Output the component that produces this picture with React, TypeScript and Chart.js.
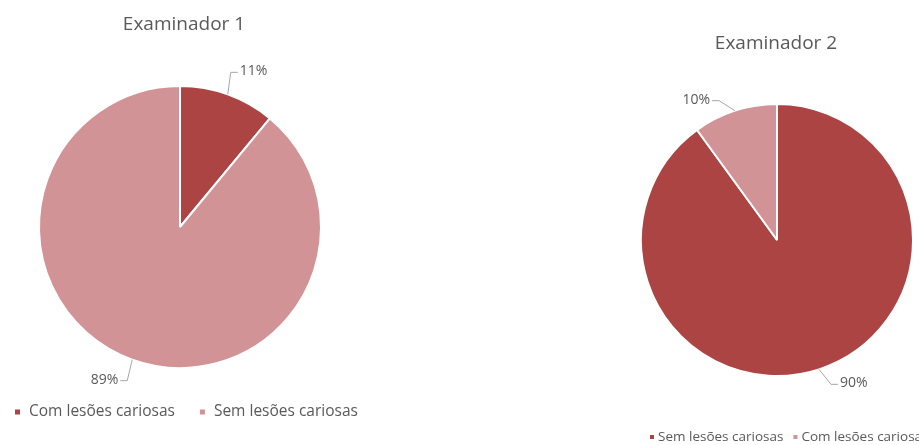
import React, { useEffect, useRef } from "react";
import { Chart, registerables } from "chart.js";

Chart.register(...registerables);

// ---- Data ----
const title1 = "Examinador 1";
const categories1 = ["Com lesões cariosas", "Sem lesões cariosas"];
const values1 = [11, 89];

const title2 = "Examinador 2";
const categories2 = ["Sem lesões cariosas", "Com lesões cariosas"];
const values2 = [90, 10];

// ---- Styles ----
const DARK = "#ab4443";
const LIGHT = "#d19396";
const TEXT = "#595959";
const LEADER = "#a6a6a6";
const FONT = "'Open Sans', 'DejaVu Sans', sans-serif";

type LabelPlace = { dx: number; dy: number; align: "left" | "right" };
type Decor = {
  title: { text: string; x: number; y: number; size: number };
  legend: { x: number; y: number; size: number; box: number; boxGap: number; itemGap: number };
  labels: LabelPlace[];
  labelSize: number;
};

const decorPlugin = {
  id: "excelDecor",
  afterDatasetsDraw(chart: any, _args: any, opts: Decor) {
    const ctx = chart.ctx as CanvasRenderingContext2D;
    const meta = chart.getDatasetMeta(0);
    const data = chart.data.datasets[0].data as number[];
    const total = data.reduce((a, b) => a + b, 0);
    ctx.save();
    meta.data.forEach((arc: any, i: number) => {
      const p = arc.getProps(["x", "y", "startAngle", "endAngle", "outerRadius"], true);
      const mid = (p.startAngle + p.endAngle) / 2;
      const ex = p.x + Math.cos(mid) * p.outerRadius;
      const ey = p.y + Math.sin(mid) * p.outerRadius;
      const place = opts.labels[i];
      const ax = ex + place.dx;
      const ay = ey + place.dy;
      const s = place.align === "left" ? 1 : -1;
      ctx.strokeStyle = LEADER;
      ctx.lineWidth = 1;
      ctx.beginPath();
      ctx.moveTo(ex, ey);
      ctx.lineTo(ax - s * 9, ay + 1);
      ctx.lineTo(ax - s * 2, ay + 1);
      ctx.stroke();
      ctx.fillStyle = TEXT;
      ctx.font = `${opts.labelSize}px ${FONT}`;
      ctx.textBaseline = "middle";
      ctx.textAlign = place.align;
      ctx.fillText(Math.round((data[i] / total) * 100) + "%", ax, ay);
    });
    ctx.restore();
  },
  afterDraw(chart: any, _args: any, opts: Decor) {
    const ctx = chart.ctx as CanvasRenderingContext2D;
    ctx.save();
    // title
    ctx.fillStyle = TEXT;
    ctx.font = `${opts.title.size}px ${FONT}`;
    ctx.textAlign = "center";
    ctx.textBaseline = "middle";
    ctx.fillText(opts.title.text, opts.title.x, opts.title.y);
    // legend
    const lg = opts.legend;
    ctx.font = `${lg.size}px ${FONT}`;
    ctx.textAlign = "left";
    let x = lg.x;
    const labels = chart.data.labels as string[];
    const colors = chart.data.datasets[0].backgroundColor as string[];
    labels.forEach((lab, i) => {
      ctx.fillStyle = colors[i];
      ctx.fillRect(x, lg.y - lg.box / 2, lg.box, lg.box);
      x += lg.box + lg.boxGap;
      ctx.fillStyle = TEXT;
      ctx.fillText(lab, x, lg.y);
      x += ctx.measureText(lab).width + lg.itemGap;
    });
    ctx.restore();
  },
};

function PieBox(props: {
  left: number;
  width: number;
  labels: string[];
  values: number[];
  colors: string[];
  padding: { left: number; right: number; top: number; bottom: number };
  decor: Decor;
}) {
  const ref = useRef<HTMLCanvasElement>(null);
  useEffect(() => {
    if (!ref.current) return;
    const chart = new Chart(ref.current, {
      type: "pie",
      data: {
        labels: props.labels,
        datasets: [
          {
            data: props.values,
            backgroundColor: props.colors,
            borderColor: "#ffffff",
            borderWidth: 2,
          },
        ],
      },
      options: {
        responsive: false,
        animation: false,
        layout: { padding: props.padding },
        plugins: {
          legend: { display: false },
          title: { display: false },
          tooltip: { enabled: false },
          excelDecor: props.decor,
        } as any,
      },
      plugins: [decorPlugin],
    });
    return () => chart.destroy();
  }, []);
  return (
    <canvas
      ref={ref}
      width={props.width}
      height={445}
      style={{ position: "absolute", left: props.left, top: 0, width: props.width, height: 445 }}
    />
  );
}

export default function App() {
  return (
    <div style={{ position: "absolute", left: 0, top: 0, width: 919, height: 445, background: "#ffffff", overflow: "hidden" }}>
      <PieBox
        left={0}
        width={380}
        labels={categories1}
        values={values1}
        colors={[DARK, LIGHT]}
        padding={{ left: 38, right: 58, top: 85, bottom: 76 }}
        decor={{
          title: { text: title1, x: 184, y: 25, size: 19 },
          legend: { x: 15, y: 412, size: 15.5, box: 5, boxGap: 9, itemGap: 25 },
          labels: [
            { dx: 12, dy: -23, align: "left" },
            { dx: -14, dy: 20, align: "right" },
          ],
          labelSize: 14,
        }}
      />
      <PieBox
        left={540}
        width={379}
        labels={categories2}
        values={values2}
        colors={[DARK, LIGHT]}
        padding={{ left: 100, right: 5, top: 103, bottom: 68 }}
        decor={{
          title: { text: title2, x: 236, y: 44, size: 19 },
          legend: { x: 110, y: 437, size: 13.5, box: 4, boxGap: 4, itemGap: 10 },
          labels: [
            { dx: 21, dy: 14, align: "left" },
            { dx: -25, dy: -11, align: "right" },
          ],
          labelSize: 14,
        }}
      />
    </div>
  );
}
